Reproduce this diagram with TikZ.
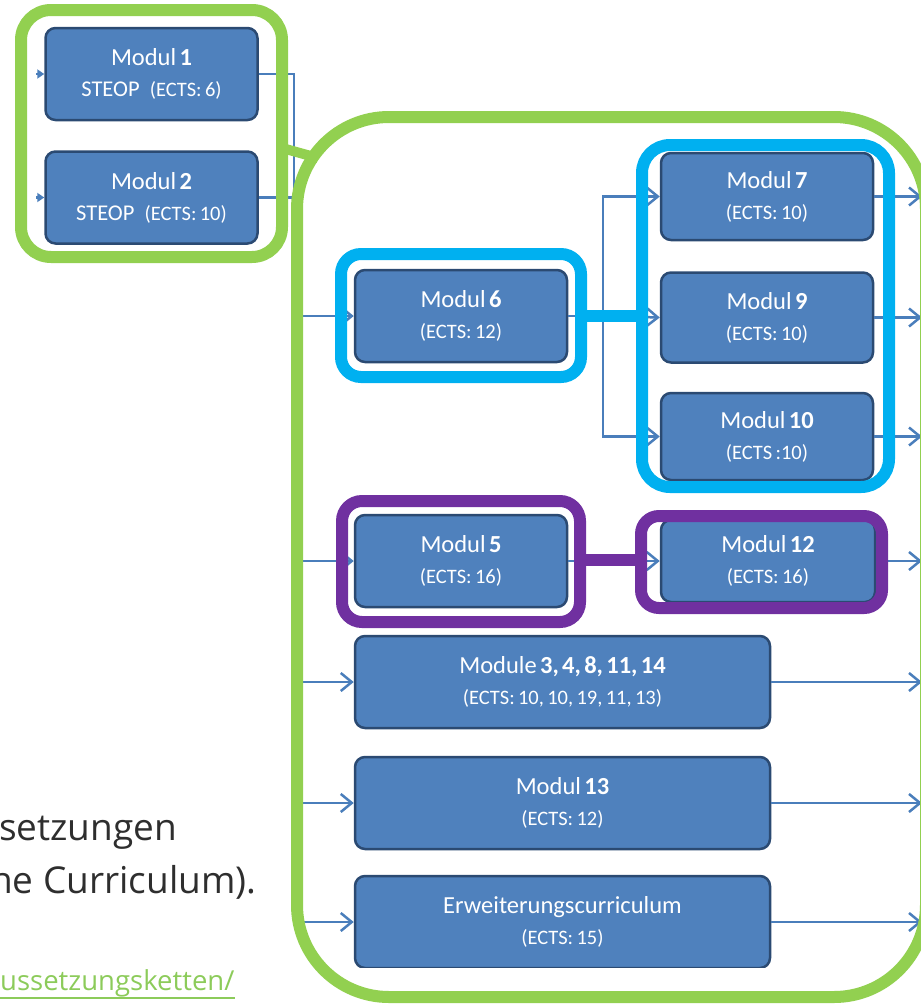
\documentclass[tikz,border=0pt]{standalone}
\usepackage{fontspec}
\setmainfont{Carlito}
\newfontfamily\slidefont{Open Sans}
\usetikzlibrary{arrows.meta}
\definecolor{boxfill}{HTML}{4F81BD}
\definecolor{boxline}{HTML}{2B4A72}
\definecolor{conncol}{HTML}{4A7EBB}
\definecolor{grn}{HTML}{92D050}
\definecolor{cyanb}{HTML}{00B0F0}
\definecolor{purp}{HTML}{7030A0}
\definecolor{linkgrn}{HTML}{8CCB5A}
\definecolor{slidetext}{HTML}{2E2E2E}
\newcommand{\modtxt}[2]{\fontsize{24.5}{24.5}\selectfont #1\\\fontsize{20.5}{31}\selectfont #2\par}
\begin{document}
\begin{tikzpicture}[x=1pt,y=-1pt,
  modbox/.style={fill=boxfill, draw=boxline, line width=2.5pt, rounded corners=10pt,
    text=white, align=center, inner sep=0pt, minimum height=92pt,
    text width=#1, minimum width=#1},
  modbox/.default=212pt,
  conn/.style={draw=conncol, line width=2.5pt},
  arr/.style={conn, -{Straight Barb[length=11pt,width=18pt]}},
  tri/.style={conn, -{Triangle[length=7pt,width=9pt]}},
  hilite/.style={line width=12pt, rounded corners=#1},
  slide/.style={anchor=base west, inner sep=0pt},
]
\useasboundingbox (0,0) rectangle (921,1007);
\clip (0,0) rectangle (921,1007);

% ---------- module boxes ----------
\node[modbox] (m1) at (151.5,74) {\modtxt{Modul \textbf{1}}{{\fontsize{22.5}{22.5}\selectfont STEOP}\enspace(ECTS: 6)}};
\node[modbox] (m2) at (151.5,197.5) {\modtxt{Modul \textbf{2}}{{\fontsize{22.5}{22.5}\selectfont STEOP}\enspace(ECTS: 10)}};
\node[modbox] (m6) at (461,316) {\modtxt{Modul \textbf{6}}{(ECTS: 12)}};
\node[modbox, minimum height=87pt] (m7) at (767,196.5) {\modtxt{Modul \textbf{7}}{(ECTS: 10)}};
\node[modbox, minimum height=90pt] (m9) at (767,317.5) {\modtxt{Modul \textbf{9}}{(ECTS: 10)}};
\node[modbox, minimum height=87pt] (m10) at (767,436.5) {\modtxt{Modul \textbf{10}}{(ECTS :10)}};
\node[modbox] (m5) at (461,561) {\modtxt{Modul \textbf{5}}{(ECTS: 16)}};
\node[modbox=214pt, minimum height=82pt] (m12) at (768,561) {\modtxt{Modul \textbf{12}}{(ECTS: 16)}};
\node[modbox=415pt] (m3) at (562.5,682) {\modtxt{Module \textbf{3, 4, 8, 11, 14}}{(ECTS: 10, 10, 19, 11, 13)}};
\node[modbox=415pt] (m13) at (562.5,803) {\modtxt{Modul \textbf{13}}{(ECTS: 12)}};
\begin{scope}
  \clip (0,0) rectangle (921,967);
  \node[modbox=415pt] (erw) at (562.5,922) {\modtxt{Erweiterungscurriculum}{(ECTS: 15)}};
\end{scope}

% ---------- connectors ----------
\coordinate (s1) at (36,74);
\coordinate (s2) at (36,197.5);
\draw[tri] (s1) -- (m1.west);
\draw[tri] (s2) -- (m2.west);
\draw[conn] (m1.east) -- ++(35,0) |- (m2.east);

\coordinate (i6) at (298,316);
\coordinate (i5) at (298,561);
\coordinate (i3) at (298,682);
\coordinate (i13) at (298,803);
\coordinate (ie) at (298,922);
\draw[arr] (i6) -- (m6.west);
\draw[arr] (i5) -- (m5.west);
\draw[arr] (i3) -- (m3.west);
\draw[arr] (i13) -- (m13.west);
\draw[arr] (ie) -- (erw.west);

\coordinate (f6) at (603,316);
\draw[conn] (m6.east) -- (f6);
\draw[arr] (f6) |- (m7.west);
\draw[arr] (f6) -- (m9.west);
\draw[arr] (f6) |- (m10.west);
\draw[arr] (m5.east) -- (m12.west);

\coordinate (o7) at (922,196.5);
\coordinate (o9) at (922,317.5);
\coordinate (o10) at (922,436.5);
\coordinate (o12) at (922,561);
\coordinate (o3) at (922,682);
\coordinate (o13) at (922,803);
\coordinate (oe) at (922,922);
\draw[arr] (m7.east) -- (o7);
\draw[arr] (m9.east) -- (o9);
\draw[arr] (m10.east) -- (o10);
\draw[arr] (m12.east) -- (o12);
\draw[arr] (m3.east) -- (o3);
\draw[arr] (m13.east) -- (o13);
\draw[arr] (erw.east) -- (oe);

% ---------- highlight frames ----------
\draw[grn, hilite=30pt] (21,10) rectangle (282,257);
\draw[grn, hilite=92pt] (297,117) rectangle (926,997);
\draw[grn, line width=10pt] (282,148) -- (318,158);

\draw[cyanb, hilite=20pt] (341,254) rectangle (581,377);
\draw[cyanb, hilite=28pt] (642,145) rectangle (889,487);
\draw[cyanb, line width=12pt] (581,316) -- (642,316);

\draw[purp, hilite=20pt] (342,501) rectangle (580,622);
\draw[purp, hilite=18pt] (641,516) rectangle (882,608);
\draw[purp, line width=12pt] (580,560) -- (641,560);

% ---------- slide text ----------
\node[slide, font=\slidefont\fontsize{37}{37}\selectfont, text=slidetext] (t1) at (-1,840) {setzungen};
\node[slide, font=\slidefont\fontsize{37}{37}\selectfont, text=slidetext] (t2) at (-10,893) {he Curriculum).};
\node[slide, font=\slidefont\fontsize{27.5}{27.5}\selectfont, text=linkgrn] (t3) at (0,990) {ussetzungsketten/};
\draw[linkgrn, line width=1.3pt] ([yshift=-8pt]t3.base west) -- ([yshift=-8pt]t3.base east);
\end{tikzpicture}
\end{document}
